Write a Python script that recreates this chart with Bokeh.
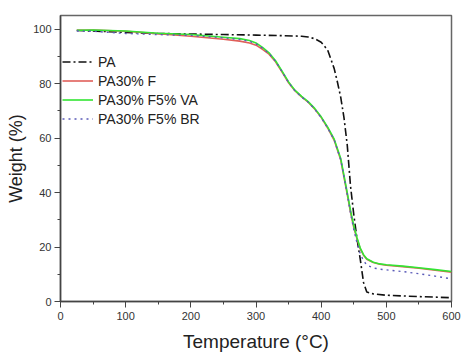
from bokeh.plotting import figure
from bokeh.models import Range1d, FixedTicker
from bokeh.embed import file_html
from bokeh.resources import INLINE

temps_pa = [25, 50, 100, 150, 200, 250, 300, 340, 370, 380, 390, 400, 410, 420, 425,
            430, 435, 440, 445, 450, 455, 460, 465, 470, 480, 500, 550, 600]
w_pa = [99.5, 99.3, 98.8, 98.4, 98.2, 98.0, 97.8, 97.6, 97.4, 97.1, 96.5, 95.2, 92.3,
        85.5, 80.5, 75.0, 67.5, 57.5, 42.5, 32.0, 23.0, 15.5, 7.0, 3.5, 2.8, 2.3, 1.8, 1.4]

temps = [25, 50, 100, 150, 200, 250, 275, 290, 300, 310, 320, 330, 340, 350, 360, 370,
         380, 390, 400, 410, 420, 430, 440, 445, 450, 455, 460, 465, 470, 480, 490, 500,
         525, 550, 575, 600]
w_f = [99.6, 99.7, 99.2, 98.3, 97.4, 96.3, 95.6, 94.9, 94.1, 92.6, 90.8, 88.0, 84.2,
       80.3, 77.3, 75.1, 73.2, 70.7, 67.6, 63.7, 59.2, 52.0, 39.3, 32.8, 27.2, 23.0,
       19.3, 17.0, 15.5, 14.3, 13.7, 13.3, 12.8, 12.2, 11.5, 10.8]
w_va = [99.6, 99.7, 99.3, 98.5, 98.0, 97.0, 96.5, 95.8, 94.9, 93.3, 91.3, 88.4, 84.6,
        80.6, 77.5, 75.3, 73.4, 70.9, 67.8, 64.0, 59.6, 52.5, 40.0, 33.5, 27.8, 23.4,
        19.6, 17.2, 15.7, 14.4, 13.8, 13.5, 13.0, 12.4, 11.7, 11.0]
w_br = [99.3, 99.2, 98.4, 98.0, 97.7, 96.8, 96.2, 95.5, 94.6, 93.0, 91.1, 88.2, 84.4,
        80.4, 77.3, 75.1, 73.2, 70.7, 67.5, 63.7, 59.3, 52.0, 39.5, 32.5, 26.5, 21.5,
        17.5, 15.0, 13.4, 12.3, 11.9, 11.6, 11.0, 10.2, 9.3, 8.3]

x_ticks = [0, 100, 200, 300, 400, 500, 600]
y_ticks = [0, 20, 40, 60, 80, 100]

FONT = "Liberation Sans"

p = figure(width=466, height=355, output_backend="svg", toolbar_location=None,
           x_range=Range1d(0, 600), y_range=Range1d(0, 105),
           min_border_left=60, min_border_right=15, min_border_top=15, min_border_bottom=54)

p.line(temps_pa, w_pa, line_color="#111111", line_width=1.6, line_dash="8 3 2 3",
       legend_label="PA")
p.line(temps, w_f, line_color="#e0605a", line_width=1.6, legend_label="PA30% F")
p.line(temps, w_va, line_color="#33e533", line_width=1.6, legend_label="PA30% F5% VA")
p.line(temps, w_br, line_color="#5a5ab8", line_width=1.4, line_dash="2 4",
       legend_label="PA30% F5% BR")

p.grid.visible = False
p.background_fill_color = "white"
p.border_fill_color = "white"
p.outline_line_color = "#666666"
p.outline_line_width = 1.5

p.xaxis.ticker = FixedTicker(ticks=x_ticks, minor_ticks=[50, 150, 250, 350, 450, 550])
p.yaxis.ticker = FixedTicker(ticks=y_ticks, minor_ticks=[10, 30, 50, 70, 90])

for ax in (p.xaxis[0], p.yaxis[0]):
    ax.axis_line_color = "#444444"
    ax.axis_line_width = 1.5
    ax.major_tick_line_color = "#444444"
    ax.minor_tick_line_color = "#444444"
    ax.major_tick_in = 0
    ax.major_tick_out = 6
    ax.minor_tick_in = 0
    ax.minor_tick_out = 3
    ax.major_label_text_font = FONT
    ax.major_label_text_font_size = "11px"
    ax.major_label_text_color = "#333333"
    ax.axis_label_text_font = FONT
    ax.axis_label_text_font_style = "normal"
    ax.axis_label_text_color = "#222222"

p.xaxis.axis_label = "Temperature (°C)"
p.xaxis.axis_label_text_font_size = "19px"
p.xaxis.axis_label_standoff = 8
p.xaxis.major_label_standoff = 4

p.yaxis.axis_label = "Weight (%)"
p.yaxis.axis_label_text_font_size = "18px"
p.yaxis.axis_label_standoff = 4
p.yaxis.major_label_standoff = 3

lg = p.legend[0]
lg.location = (2, 173)
lg.border_line_color = None
lg.background_fill_alpha = 0
lg.padding = 0
lg.margin = 0
lg.spacing = 0
lg.glyph_width = 31
lg.glyph_height = 19
lg.label_height = 19
lg.label_standoff = 5
lg.label_text_font = FONT
lg.label_text_font_size = "14px"
lg.label_text_color = "#222222"

open("out.html", "w").write(file_html(p, INLINE))
